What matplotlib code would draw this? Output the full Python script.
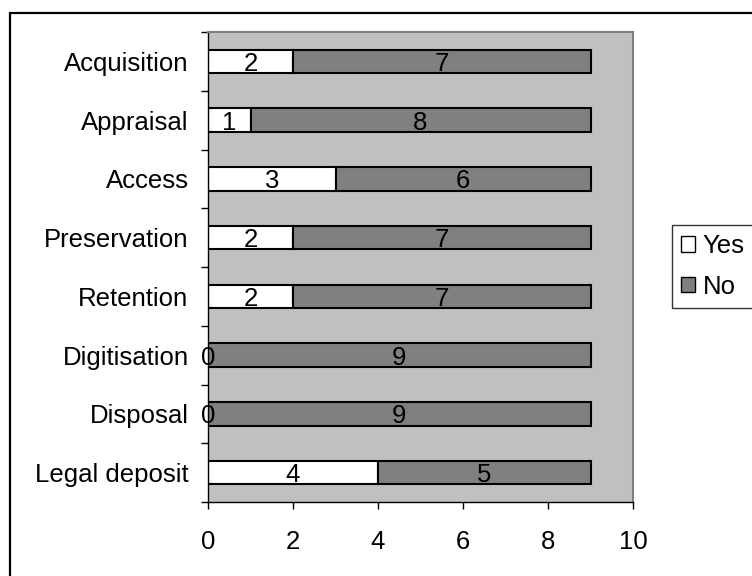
import matplotlib
matplotlib.use("Agg")
import matplotlib.pyplot as plt
from matplotlib.patches import Rectangle, Patch
import numpy as np

categories = ["Acquisition", "Appraisal", "Access", "Preservation",
              "Retention", "Digitisation", "Disposal", "Legal deposit"]
yes_counts = [2, 1, 3, 2, 2, 0, 0, 4]
no_counts = [7, 8, 6, 7, 7, 9, 9, 5]
x_ticks = [0, 2, 4, 6, 8, 10]

plt.rcParams['font.family'] = ['Liberation Sans', 'DejaVu Sans']
FS = 18.5

fig = plt.figure(figsize=(7.52, 5.76), dpi=100)
W, H = 752, 576
ax = fig.add_axes([208 / W, 1 - 502 / H, (633 - 208) / W, (502 - 32) / H])
ax.set_facecolor("#C0C0C0")

y = np.arange(len(categories))
bh = 0.4
b_yes = ax.barh(y, yes_counts, height=bh, color="white", edgecolor="black",
                linewidth=1.5, label="Yes")
b_no = ax.barh(y, no_counts, left=yes_counts, height=bh, color="#808080",
               edgecolor="black", linewidth=1.5, label="No")
texts = ax.bar_label(b_yes, labels=[str(v) for v in yes_counts],
                     label_type="center", fontsize=FS, color="black")
texts += ax.bar_label(b_no, labels=[str(v) for v in no_counts],
                      label_type="center", fontsize=FS, color="black")
for t in texts:
    t.set_va("center_baseline")

ax.set_xlim(0, 10)
ax.set_ylim(len(categories) - 0.5, -0.5)
ax.set_xticks(x_ticks)
ax.set_xticklabels([str(t) for t in x_ticks], fontsize=FS)
ax.set_yticks(y)
ax.set_yticklabels(categories, fontsize=FS)
ax.set_yticks(np.arange(len(categories) + 1) - 0.5, minor=True)
ax.tick_params(axis="y", which="major", length=0, pad=14)
ax.tick_params(axis="y", which="minor", length=5, width=1, direction="out")
ax.tick_params(axis="x", which="major", length=5, width=1, direction="out", pad=15)

for side in ("left", "bottom"):
    ax.spines[side].set_color("black")
    ax.spines[side].set_linewidth(1)
for side in ("top", "right"):
    ax.spines[side].set_color("#808080")
    ax.spines[side].set_linewidth(1.5)

# outer chart frame
fig.patches.append(Rectangle((10 / W, -0.1), 1.2, (1 - 13 / H) + 0.1,
                             transform=fig.transFigure, fill=False,
                             edgecolor="black", linewidth=1.6))

handles = [Patch(facecolor="white", edgecolor="black", linewidth=1),
           Patch(facecolor="#808080", edgecolor="black", linewidth=1)]
leg = fig.legend(handles, ["Yes", "No"], loc="upper left",
                 bbox_to_anchor=(672 / W, 1 - 225 / H), fontsize=FS,
                 frameon=True, fancybox=False, edgecolor="black",
                 handlelength=0.55, handleheight=0.55, handletextpad=0.3,
                 labelspacing=0.65, borderpad=0.35, borderaxespad=0)
leg.get_frame().set_linewidth(1)

fig.savefig("out.png", dpi=100)
